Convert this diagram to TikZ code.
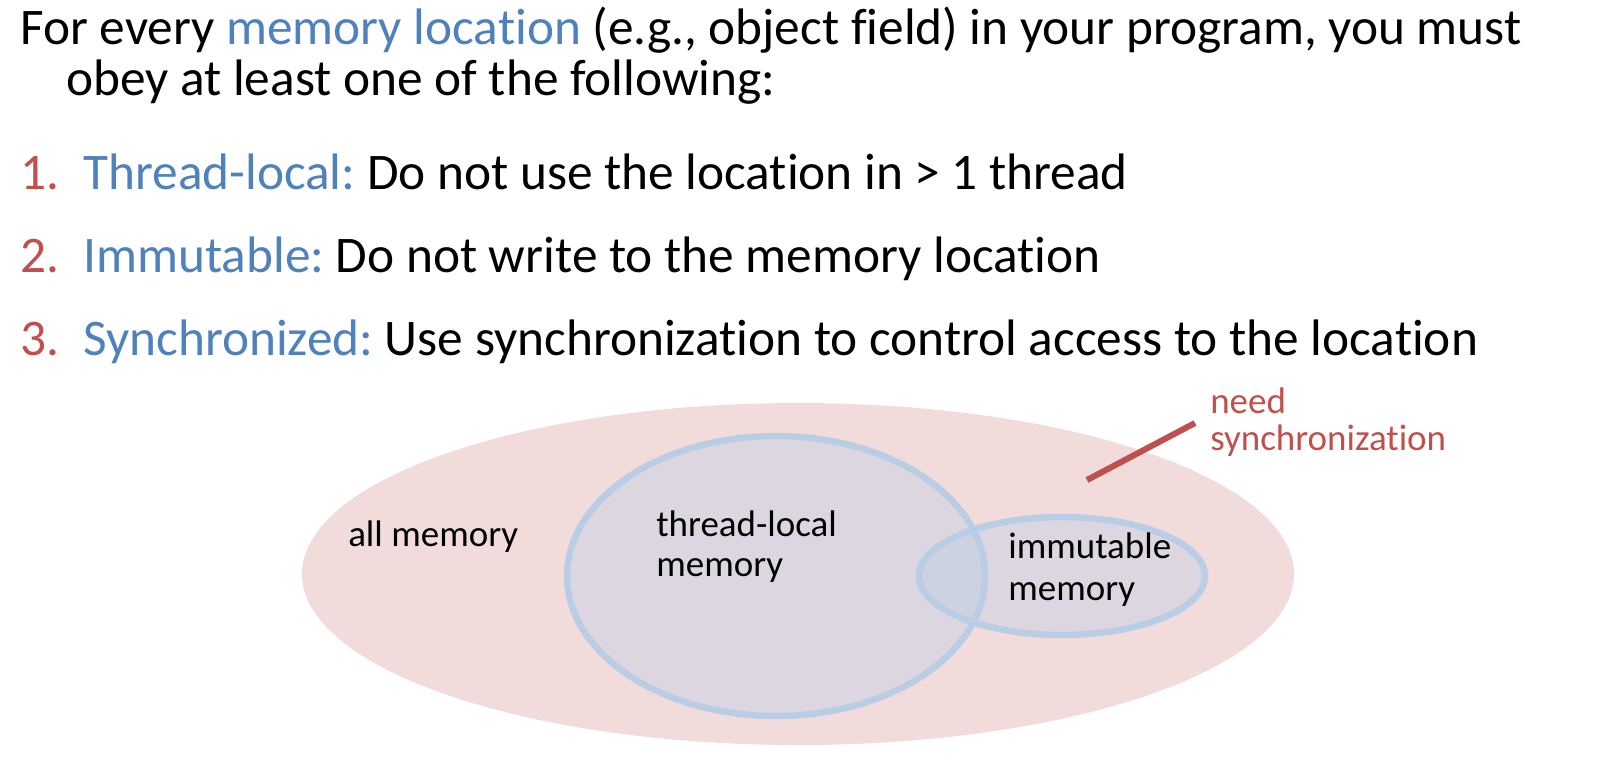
\documentclass[tikz,border=0pt]{standalone}
\usepackage{fontspec}
\setmainfont{Carlito}[Ligatures=NoCommon]
\usepackage{xcolor}
\definecolor{slide-blue}{HTML}{4F81BD}
\definecolor{slide-red}{HTML}{C0504D}
\definecolor{slide-pink}{HTML}{F2DCDB}
\definecolor{slide-ring}{HTML}{B9CDE5}
\usepackage{tikz}
\frenchspacing

\begin{document}
\begin{tikzpicture}[x=0.025cm, y=-0.025cm,
    bigline/.style={inner sep=0, anchor=base west, font=\fontsize{36.5}{44}\selectfont},
    tag/.style={inner sep=0, anchor=base west, font=\fontsize{26.3}{32}\selectfont},
    ring/.style={draw=slide-ring, line width=4.6pt, fill=slide-ring, fill opacity=0.4}]

    % Canvas
    \useasboundingbox (0, 0) rectangle (1600, 759);

    % Heading
    \node[bigline] (intro1) at (20, 44) {For every \textcolor{slide-blue}{memory location} (e.g., object field) in your program, you must};
    \node[bigline] (intro2) at (66, 95) {obey at least one of the following:};

    % Rules
    \node[bigline, slide-red] (num1) at (20, 189) {1.};
    \node[bigline, slide-red] (num2) at (20, 272) {2.};
    \node[bigline, slide-red] (num3) at (20, 355) {3.};
    \node[bigline] (rule1) at (83, 189) {\textcolor{slide-blue}{Thread-local:} Do not use the location in > 1 thread};
    \node[bigline] (rule2) at (83, 272) {\textcolor{slide-blue}{Immutable:} Do not write to the memory location};
    \node[bigline] (rule3) at (83, 355) {\textcolor{slide-blue}{Synchronized:} Use synchronization to control access to the location};

    % All memory
    \fill[slide-pink] (798, 574) ellipse (496 and 171);

    % Thread-local and immutable
    \draw[ring] (776, 576) ellipse (209 and 140);
    \draw[ring] (1062, 576) ellipse (143 and 59);

    % Leader
    \coordinate (syncfoot) at (1087, 480);
    \coordinate (synctop) at (1195, 423);
    \draw[slide-red, line width=4.3pt] (syncfoot) -- (synctop);

    % Labels
    \node[tag] (allmem) at (348, 546) {all memory};
    \node[tag] (local1) at (656, 536) {thread-local};
    \node[tag] (local2) at (656, 576) {memory};
    \node[tag] (immut1) at (1008, 558) {immutable};
    \node[tag] (immut2) at (1008, 600) {memory};
    \node[tag, slide-red] (sync1) at (1210, 413) {need};
    \node[tag, slide-red] (sync2) at (1210, 450) {synchronization};

\end{tikzpicture}
\end{document}
